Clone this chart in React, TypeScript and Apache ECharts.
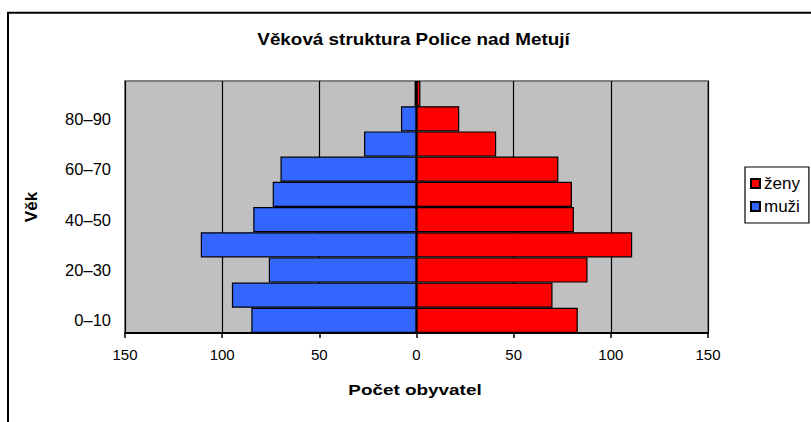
import React, { useEffect, useRef } from "react";
import * as echarts from "echarts";

const categories = ["0–10", "10–20", "20–30", "30–40", "40–50", "50–60", "60–70", "70–80", "80–90", "90–100"];
const menValues = [85, 95, 76, 111, 84, 74, 70, 27, 8, 1];
const womenValues = [83, 70, 88, 111, 81, 80, 73, 41, 22, 2];
const xTicks = [-150, -100, -50, 0, 50, 100, 150];
const titleText = "Věková struktura Police nad Metují";
const xName = "Počet obyvatel";
const yName = "Věk";

export default function App() {
  const ref = useRef<HTMLDivElement>(null);
  useEffect(() => {
    if (!ref.current) return;
    const chart = echarts.init(ref.current, null, { renderer: "svg" });
    const font = "'Liberation Sans', Arial, sans-serif";
    chart.setOption({
      animation: false,
      backgroundColor: "#ffffff",
      textStyle: { fontFamily: font },
      grid: {
        left: 125,
        top: 81,
        width: 583,
        height: 252,
        show: true,
        backgroundColor: "#C0C0C0",
        borderColor: "#808080",
        borderWidth: 2,
        containLabel: false,
      },
      legend: {
        orient: "vertical",
        left: 745,
        top: 167,
        data: ["ženy", "muži"],
        icon: "rect",
        itemWidth: 9,
        itemHeight: 9,
        itemGap: 6,
        padding: [8, 9, 8, 5],
        borderColor: "#000",
        borderWidth: 1.2,
        textStyle: { fontFamily: font, fontSize: 17, color: "#000", padding: [0, 0, 0, -1] },
      },
      xAxis: {
        type: "value",
        min: xTicks[0],
        max: xTicks[xTicks.length - 1],
        interval: 50,
        axisLine: { show: true, lineStyle: { color: "#000", width: 2 } },
        axisTick: { show: true, length: 5, lineStyle: { color: "#000", width: 1.5 } },
        axisLabel: {
          formatter: (v: number) => String(Math.abs(v)),
          fontFamily: font,
          fontSize: 15,
          color: "#000",
          margin: 14,
        },
        splitLine: { show: true, lineStyle: { color: "#000", width: 1.2 } },
      },
      yAxis: {
        type: "category",
        data: categories,
        axisLine: { show: false },
        axisTick: { show: false },
        axisLabel: { interval: 1, fontFamily: font, fontSize: 16.5, color: "#000", margin: 14 },
        splitLine: { show: false },
      },
      series: [
        {
          name: "ženy",
          type: "bar",
          data: womenValues,
          barCategoryGap: 0,
          barGap: "-100%",
          itemStyle: { color: "#FF0000", borderColor: "#000", borderWidth: 1.2 },
        },
        {
          name: "muži",
          type: "bar",
          data: menValues.map((v) => -v),
          barCategoryGap: 0,
          barGap: "-100%",
          itemStyle: { color: "#3366FF", borderColor: "#000", borderWidth: 1.2 },
        },
      ],
      graphic: [
        {
          type: "rect",
          shape: { x: 8, y: 12.8, width: 900, height: 500 },
          style: { fill: "none", stroke: "#000", lineWidth: 2 },
          silent: true,
        },
        {
          type: "text",
          x: 413.5,
          y: 40,
          scaleX: 1.18,
          style: {
            text: titleText,
            fontFamily: font,
            fontSize: 16,
            fontWeight: "bold",
            fill: "#000",
            align: "center",
            verticalAlign: "middle",
          },
        },
        {
          type: "text",
          x: 415,
          y: 390,
          scaleX: 1.22,
          style: {
            text: xName,
            fontFamily: font,
            fontSize: 15.5,
            fontWeight: "bold",
            fill: "#000",
            align: "center",
            verticalAlign: "middle",
          },
        },
        {
          type: "text",
          x: 31,
          y: 207,
          rotation: Math.PI / 2,
          style: {
            text: yName,
            fontFamily: font,
            fontSize: 17,
            fontWeight: "bold",
            fill: "#000",
            align: "center",
            verticalAlign: "middle",
          },
        },
      ],
    });
    return () => chart.dispose();
  }, []);
  return (
    <div
      ref={ref}
      style={{ position: "absolute", left: 0, top: 0, width: 811, height: 422 }}
    />
  );
}
